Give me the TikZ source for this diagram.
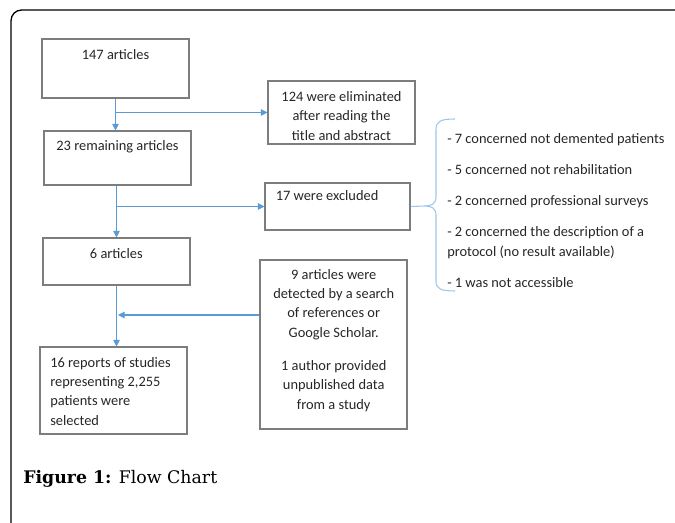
\documentclass[tikz,border=0pt]{standalone}
\usepackage{fontspec}
\setmainfont{Carlito}
\newfontfamily\capfont{DejaVu Serif}
\usetikzlibrary{arrows.meta,fit,positioning}

\definecolor{flowblue}{RGB}{91,155,213}
\definecolor{bracelight}{RGB}{160,196,232}
\definecolor{boxgray}{RGB}{125,125,125}
\definecolor{txtdark}{RGB}{38,38,38}

\tikzset{
  box/.style={draw=boxgray, line width=0.8pt, inner sep=0pt},
  txt/.style={inner sep=0pt, text=txtdark, font=\fontsize{10.8}{14.6}\selectfont},
  flow/.style={draw=flowblue, line width=0.8pt, -{Triangle[length=5pt,width=5pt]}},
}

\begin{document}
\begin{tikzpicture}[x=0.75pt,y=0.75pt,yscale=-1,xscale=1]
        \useasboundingbox (0,0) rectangle (675,523);
        
        % frame
        \draw [line width=1pt, rounded corners=8] (11,523) -- (11,10) -- (675,10);
        
        % boxes
        \node [box, fit={(42,39) (189,98)}] (b147) {};
        \node [box, fit={(268,81) (415,144)}] (b124) {};
        \node [box, fit={(44,131) (191,185)}] (b23) {};
        \node [box, fit={(265,183) (410,230)}] (b17) {};
        \node [box, fit={(43,238) (190,285)}] (b6) {};
        \node [box, fit={(260,260) (407,429)}] (b9) {};
        \node [box, fit={(40,347) (187,434)}] (b16) {};
        
        % texts
        \node [txt, anchor=base] (t147) at (115.5,59.5) {147 articles};
        \node [txt, anchor=north, align=center] (t124) at (341.5,91.2) {124 were eliminated\\after reading the\\title and abstract};
        \node [txt, anchor=base] (t23) at (117.5,150.5) {23 remaining articles};
        \node [txt, anchor=base west] (t17) at (275.5,201) {17 were excluded};
        \node [txt, anchor=base] (t6) at (116.3,258.5) {6 articles};
        \node [txt, anchor=north, align=center] (t9) at (333.7,268.8) {9 articles were\\detected by a search\\of references or\\Google Scholar.\\[10pt]1 author provided\\unpublished data\\from a study};
        \node [txt, anchor=north west, align=left] (t16) at (50,356.8) {16 reports of studies\\representing 2,255\\patients were\\selected};
        \node [txt, anchor=north west, align=left, font=\fontsize{10.8}{15.5}\selectfont] (tlist) at (447,132.8) {- 7 concerned not demented patients\\[7.8pt]- 5 concerned not rehabilitation\\[7.8pt]- 2 concerned professional surveys\\[7.8pt]- 2 concerned the description of a\\protocol (no result available)\\[7.8pt]- 1 was not accessible};
        
        % connectors
        \coordinate (join) at (118,315);
        \coordinate (brtip) at (425,206);
        \draw [flow] (b147.south) -- (b147.south |- b23.north);
        \draw [flow] (b147.south |- b124.west) -- (b124.west);
        \draw [flow] (b6.north |- b23.south) -- (b6.north);
        \draw [flow] (b6.north |- b17.west) -- (b17.west);
        \draw [flow] (b6.south) -- (b6.south |- b16.north);
        \draw [flow] (b9.west |- join) -- (join);
        
        % brace
        \draw [bracelight, line width=0.8pt] (b17.east) -- (brtip);
        \draw [bracelight, line width=0.8pt] (455,119) .. controls (441,119) and (436,121) .. (436,130) -- (436,197) .. controls (436,204) and (431,206) .. (brtip) .. controls (431,206) and (436,208) .. (436,215) -- (436,281) .. controls (436,289) and (441,291) .. (455,291);
        
        % caption
        \node [inner sep=0pt, anchor=base west, font=\capfont\fontsize{13}{16}\selectfont] (cap) at (23,484) {\textbf{Figure 1:} Flow Chart};
        
\end{tikzpicture}
\end{document}
